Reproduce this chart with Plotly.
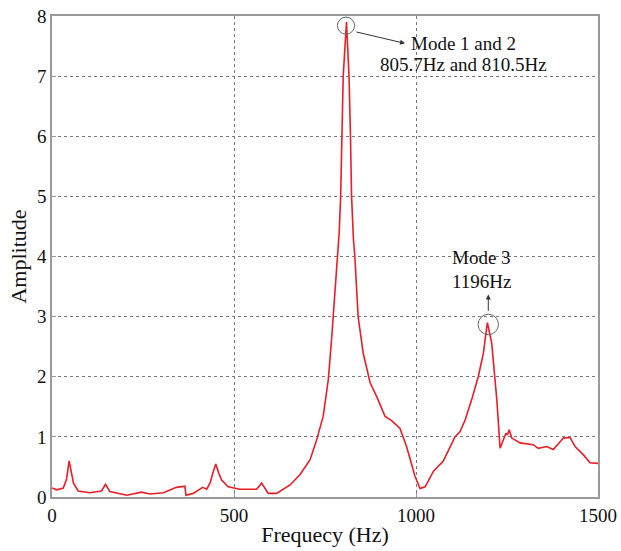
import plotly.graph_objects as go

# Frequency response data
freq_hz = [0, 13, 31, 40, 47, 53, 59, 72, 104, 136, 147, 159, 205, 246, 269, 306,
           342, 365, 368, 388, 414, 425, 434, 443, 450, 458, 466, 484, 516, 562, 576,
           594, 617, 654, 681, 709, 727, 745, 759, 768, 777, 784, 789, 793, 797, 800,
           809, 816, 820, 823, 828, 832, 841, 855, 874, 892, 915, 933, 956, 974, 997,
           1011, 1020, 1025, 1048, 1075, 1107, 1121, 1135, 1144, 1153, 1171, 1185,
           1196, 1208, 1222, 1231, 1242, 1247, 1251, 1256, 1263, 1286, 1322, 1336,
           1359, 1377, 1405, 1423, 1437, 1460, 1478, 1500]
amplitude = [0.15, 0.12, 0.15, 0.30, 0.60, 0.40, 0.23, 0.10, 0.07, 0.10, 0.21, 0.09,
             0.03, 0.08, 0.05, 0.07, 0.16, 0.18, 0.03, 0.06, 0.16, 0.13, 0.23, 0.42,
             0.55, 0.40, 0.28, 0.17, 0.13, 0.13, 0.23, 0.06, 0.06, 0.20, 0.37, 0.62,
             0.95, 1.34, 1.95, 2.62, 3.34, 4.00, 4.40, 5.00, 6.00, 7.00, 7.90, 7.00,
             6.00, 5.00, 4.30, 4.00, 3.00, 2.39, 1.90, 1.67, 1.34, 1.27, 1.14, 0.84,
             0.35, 0.14, 0.16, 0.17, 0.43, 0.60, 1.00, 1.09, 1.28, 1.45, 1.62, 2.00,
             2.39, 2.90, 2.56, 1.62, 0.81, 0.98, 1.06, 1.03, 1.12, 0.98, 0.90, 0.87,
             0.81, 0.84, 0.79, 0.98, 0.99, 0.84, 0.70, 0.57, 0.56]

x_ticks = [0, 500, 1000, 1500]
y_ticks = [0, 1, 2, 3, 4, 5, 6, 7, 8]

FONT = "Liberation Serif, Times New Roman, serif"
GRID = "#7a7a7a"
AXIS = "#9a9a9a"

fig = go.Figure()
fig.add_trace(go.Scatter(x=freq_hz, y=amplitude, mode="lines",
                         line=dict(color="#ee1c25", width=1.6),
                         showlegend=False, hoverinfo="skip"))

# circles marking the modes
fig.add_shape(type="circle", xref="x", yref="y",
              x0=807.7 - 23.5, x1=807.7 + 23.5, y0=7.84 - 0.142, y1=7.84 + 0.142,
              line=dict(color="#666666", width=1))
fig.add_shape(type="circle", xref="x", yref="y",
              x0=1198.6 - 28, x1=1198.6 + 28, y0=2.87 - 0.17, y1=2.87 + 0.17,
              line=dict(color="#666666", width=1))

annotations = [
    dict(x=969.8, y=7.545, ax=832.4, ay=7.74, xref="x", yref="y", axref="x", ayref="y",
         text="", showarrow=True, arrowhead=2, arrowsize=1, arrowwidth=1, arrowcolor="#333333"),
    dict(x=1198.6, y=3.37, ax=1198.6, ay=3.07, xref="x", yref="y", axref="x", ayref="y",
         text="", showarrow=True, arrowhead=2, arrowsize=1, arrowwidth=1, arrowcolor="#333333"),
    dict(x=980.8, y=7.545, xref="x", yref="y", text="Mode 1 and 2", showarrow=False,
         xanchor="left", yanchor="middle", font=dict(family=FONT, size=19, color="#111111")),
    dict(x=1130.5, y=7.2, xref="x", yref="y", text="805.7Hz and 810.5Hz", showarrow=False,
         xanchor="center", yanchor="middle", font=dict(family=FONT, size=19, color="#111111")),
    dict(x=1181, y=3.98, xref="x", yref="y", text="Mode 3", showarrow=False,
         xanchor="center", yanchor="middle", font=dict(family=FONT, size=19, color="#111111")),
    dict(x=1181, y=3.58, xref="x", yref="y", text="1196Hz", showarrow=False,
         xanchor="center", yanchor="middle", font=dict(family=FONT, size=19, color="#111111")),
]

fig.update_layout(
    width=621, height=551,
    margin=dict(l=52, r=23, t=16, b=54),
    paper_bgcolor="white", plot_bgcolor="white",
    font=dict(family=FONT, size=18, color="#111111"),
    annotations=annotations,
    xaxis=dict(range=[0, 1500], tickvals=x_ticks, ticktext=[str(v) for v in x_ticks],
               showgrid=True, gridcolor=GRID, griddash="dot", gridwidth=1,
               showline=True, linecolor=AXIS, linewidth=1.5, mirror=True,
               ticks="inside", ticklen=4, tickcolor=AXIS, zeroline=False,
               automargin=False,
               tickfont=dict(family=FONT, size=19),
               title=dict(text="Frequecy (Hz)", font=dict(family=FONT, size=22), standoff=2)),
    yaxis=dict(range=[0, 8], tickvals=y_ticks, ticktext=[str(v) for v in y_ticks],
               showgrid=True, gridcolor=GRID, griddash="dot", gridwidth=1,
               showline=True, linecolor=AXIS, linewidth=1.5, mirror=True,
               ticks="inside", ticklen=4, tickcolor=AXIS, zeroline=False,
               automargin=False,
               tickfont=dict(family=FONT, size=19),
               title=dict(text="Amplitude", font=dict(family=FONT, size=22), standoff=4)),
)

fig.write_html("out.html")
